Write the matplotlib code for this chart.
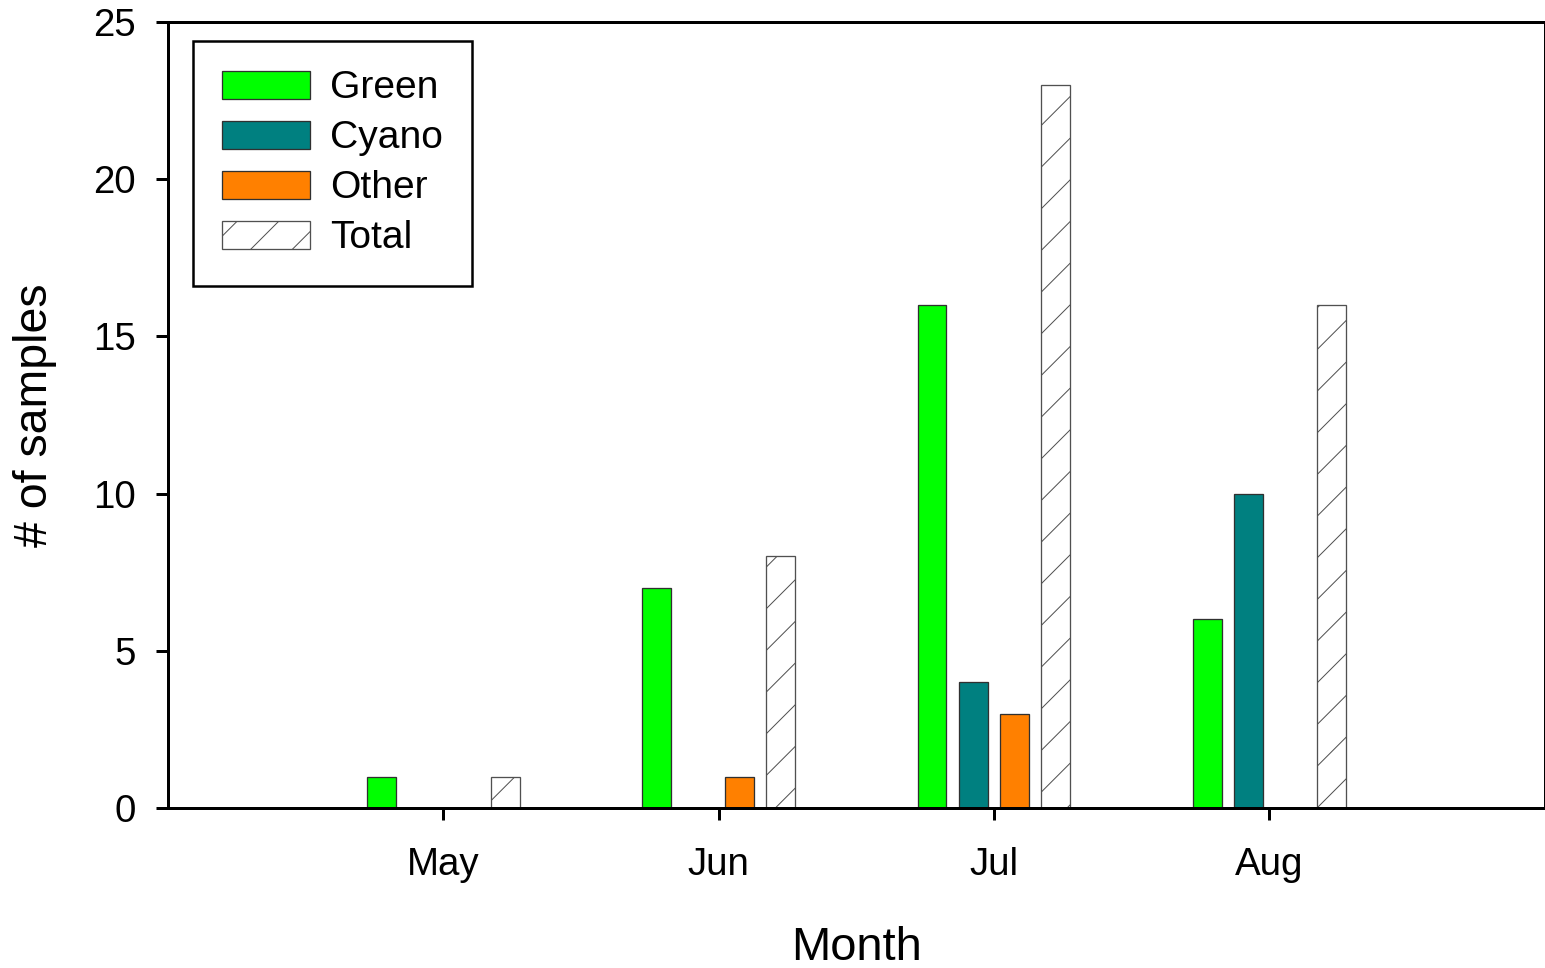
import matplotlib
matplotlib.use("Agg")
import matplotlib.pyplot as plt
import numpy as np

months = ["May", "Jun", "Jul", "Aug"]
green = [1, 7, 16, 6]
cyano = [0, 0, 4, 10]
other = [0, 1, 3, 0]
total = [1, 8, 23, 16]

series_names = ["Green", "Cyano", "Other", "Total"]
series_vals = [green, cyano, other, total]
colors = ["#00ff00", "#008080", "#ff8000", "white"]
hatches = [None, None, None, "//"]

DPI = 250
W, H = 1545, 968
def pt(px):
    return px * 72.0 / DPI

plt.rcParams['font.family'] = ['Liberation Sans', 'DejaVu Sans']
plt.rcParams['hatch.linewidth'] = pt(1.0)
plt.rcParams['hatch.color'] = 'black'

fig = plt.figure(figsize=(W / DPI, H / DPI), dpi=DPI)
ax = fig.add_axes([168 / W, (H - 808) / H, (1544.5 - 168) / W, (808 - 22) / H])

x = np.arange(1, len(months) + 1)
width = 0.105
step = 0.15
for i, (name, vals) in enumerate(zip(series_names, series_vals)):
    off = (i - 1.5) * step
    ax.bar(x + off, vals, width, color=colors[i], edgecolor='#303030' if i < 3 else '#505050',
           linewidth=pt(1.3), hatch=hatches[i], label=name, zorder=2)

ax.set_xlim(0, 5)
ax.set_ylim(0, 25)
ax.set_xticks(x)
ax.set_xticklabels(months)
ax.set_yticks([0, 5, 10, 15, 20, 25])

for s in ax.spines.values():
    s.set_linewidth(pt(3))
    s.set_zorder(3)

ax.tick_params(axis='both', direction='out', length=pt(12), width=pt(3),
               labelsize=pt(38.5))
ax.tick_params(axis='y', pad=pt(20))
ax.tick_params(axis='x', pad=pt(27))

ax.set_xlabel("Month", fontsize=pt(47))
ax.xaxis.set_label_coords(0.5, -0.150)
ax.set_ylabel("# of samples", fontsize=pt(46.5))
ax.yaxis.set_label_coords(-0.0805, 0.5)

leg = ax.legend(loc='upper left', bbox_to_anchor=((193 - 168) / 1376.5, (808 - 41) / 786),
                borderaxespad=0, fontsize=pt(39), frameon=True, fancybox=False,
                edgecolor='black', framealpha=1, handlelength=2.25, handleheight=0.72,
                handletextpad=0.52, labelspacing=0.36, borderpad=0.75)
leg.get_frame().set_linewidth(pt(2.5))

fig.savefig("out.png", dpi=DPI)
